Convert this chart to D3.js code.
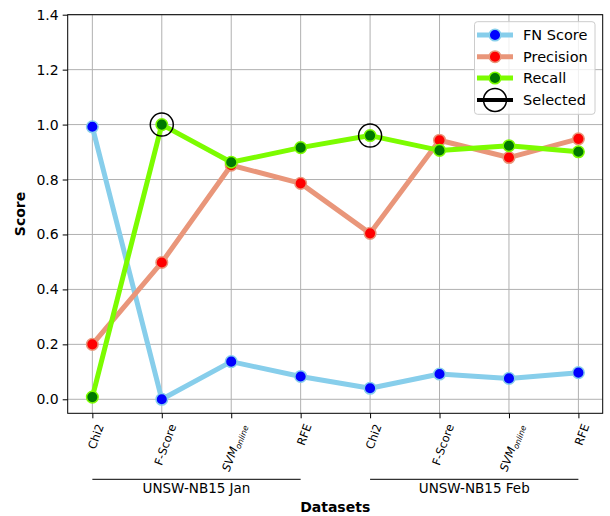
<!DOCTYPE html>
<html>
<head>
<meta charset="utf-8">
<script src="https://cdn.jsdelivr.net/npm/d3@7"></script>
<style>
  body { margin: 0; background: #fff; }
  svg { display: block; font-family: "DejaVu Sans", sans-serif; }
</style>
</head>
<body>
<svg id="chart" width="610" height="516"></svg>
<script>
// ---- data ----
const categories = ["Chi2", "F-Score", "SVM_online", "RFE", "Chi2", "F-Score", "SVM_online", "RFE"];
const groups = ["UNSW-NB15 Jan", "UNSW-NB15 Feb"];
const groupRanges = [[0, 3], [4, 7]];
const fnScore   = [0.992, 0.000, 0.137, 0.083, 0.040, 0.092, 0.076, 0.097];
const precision = [0.200, 0.498, 0.852, 0.786, 0.604, 0.943, 0.880, 0.948];
const recall    = [0.008, 1.000, 0.863, 0.916, 0.960, 0.906, 0.923, 0.901];
const selectedIdx = [1, 4];   // points on Recall that are selected
const yTicks = [0.0, 0.2, 0.4, 0.6, 0.8, 1.0, 1.2, 1.4];

const series = [
  { name: "FN Score",  values: fnScore,   line: "#87ceeb", marker: "#0000ff" },
  { name: "Precision", values: precision, line: "#e9967a", marker: "#ff0000" },
  { name: "Recall",    values: recall,    line: "#7cfc00", marker: "#007800" }
];

// ---- layout ----
const svg = d3.select("#chart");
const L = 67.7, R = 602.7, T = 14.7, B = 413.3;

const x = d3.scaleLinear().domain([-0.355, 7.35]).range([L, R]);
const y = d3.scaleLinear().domain([-0.051, 1.4]).range([B, T]);

// grid
const grid = svg.append("g");
grid.selectAll("line.gx").data(categories.map((d, i) => i)).join("line")
  .attr("x1", d => x(d)).attr("x2", d => x(d)).attr("y1", T).attr("y2", B)
  .attr("stroke", "#b0b0b0").attr("stroke-width", 1);
grid.selectAll("line.gy").data(yTicks).join("line")
  .attr("x1", L).attr("x2", R).attr("y1", d => y(d)).attr("y2", d => y(d))
  .attr("stroke", "#b0b0b0").attr("stroke-width", 1);

// y axis
const yAxis = d3.axisLeft(y).tickValues(yTicks).tickFormat(d3.format(".1f")).tickSize(5).tickPadding(4);
const gy = svg.append("g").attr("transform", `translate(${L},0)`).call(yAxis);
gy.select(".domain").remove();
gy.selectAll("text").attr("font-size", 14).attr("fill", "#000").attr("font-family", "DejaVu Sans");
gy.selectAll("line").attr("stroke", "#000");

// x axis ticks
const xAxis = d3.axisBottom(x).tickValues(categories.map((d, i) => i)).tickFormat("").tickSize(5);
const gx = svg.append("g").attr("transform", `translate(0,${B})`).call(xAxis);
gx.select(".domain").remove();
gx.selectAll("line").attr("stroke", "#000");

// frame
svg.append("rect").attr("x", L).attr("y", T).attr("width", R - L).attr("height", B - T)
  .attr("fill", "none").attr("stroke", "#000").attr("stroke-width", 1);

// x tick labels rotated 70deg, bounding box centred on tick, top just under the axis
categories.forEach((c, i) => {
  const g = svg.append("g");
  const t = g.append("text").attr("font-size", 11.5).attr("fill", "#000")
    .attr("text-anchor", "end").attr("transform", "rotate(-70)");
  if (c === "SVM_online") {
    t.append("tspan").attr("font-style", "italic").text("SVM");
    t.append("tspan").attr("font-style", "italic").attr("font-size", 8).attr("dy", 2.5).text("online");
  } else {
    t.text(c);
  }
  const bb = g.node().getBBox();
  const tx = x(i) + 3.5 - (bb.x + bb.width / 2);
  const ty = 422 - bb.y;
  g.attr("transform", `translate(${tx},${ty})`);
});

// group labels
groups.forEach((g, k) => {
  const [a, b] = groupRanges[k];
  svg.append("line").attr("x1", x(a)).attr("x2", x(b)).attr("y1", 479.3).attr("y2", 479.3)
    .attr("stroke", "#000").attr("stroke-width", 1);
  svg.append("text").attr("x", (x(a) + x(b)) / 2).attr("y", 493).attr("text-anchor", "middle")
    .attr("font-size", 13.5).attr("fill", "#000").text(g);
});

// axis titles
svg.append("text").attr("x", (L + R) / 2).attr("y", 512).attr("text-anchor", "middle")
  .attr("font-size", 14).attr("font-weight", "bold").text("Datasets");
svg.append("text").attr("transform", `translate(24.5,${(T + B) / 2}) rotate(-90)`)
  .attr("text-anchor", "middle").attr("font-size", 14).attr("font-weight", "bold").text("Score");

// series
const line = d3.line().x((d, i) => x(i)).y(d => y(d));
series.forEach(s => {
  const g = svg.append("g");
  g.append("path").attr("d", line(s.values)).attr("fill", "none")
    .attr("stroke", s.line).attr("stroke-width", 5).attr("stroke-linejoin", "round");
  g.selectAll("circle").data(s.values).join("circle")
    .attr("cx", (d, i) => x(i)).attr("cy", d => y(d)).attr("r", 5.8)
    .attr("fill", s.marker).attr("stroke", s.line).attr("stroke-width", 1.5);
});

// selected markers
svg.append("g").selectAll("circle").data(selectedIdx).join("circle")
  .attr("cx", d => x(d)).attr("cy", d => y(recall[d])).attr("r", 11.5)
  .attr("fill", "none").attr("stroke", "#000").attr("stroke-width", 1.5);

// legend
const lg = svg.append("g");
lg.append("rect").attr("x", 474.5).attr("y", 21.7).attr("width", 120.5).attr("height", 92.6)
  .attr("rx", 3).attr("fill", "#fff").attr("fill-opacity", 0.8).attr("stroke", "#cccccc").attr("stroke-width", 1);
const rows = [35, 56.7, 78, 100];
series.forEach((s, k) => {
  const yy = rows[k];
  lg.append("line").attr("x1", 477).attr("x2", 513).attr("y1", yy).attr("y2", yy)
    .attr("stroke", s.line).attr("stroke-width", 5);
  lg.append("circle").attr("cx", 495).attr("cy", yy).attr("r", 5.8)
    .attr("fill", s.marker).attr("stroke", s.line).attr("stroke-width", 1.5);
  lg.append("text").attr("x", 523).attr("y", yy).attr("dy", "0.36em").attr("font-size", 14.5).text(s.name);
});
{
  const yy = rows[3];
  lg.append("line").attr("x1", 477).attr("x2", 513).attr("y1", yy).attr("y2", yy)
    .attr("stroke", "#000").attr("stroke-width", 4);
  lg.append("circle").attr("cx", 495).attr("cy", yy).attr("r", 11.5)
    .attr("fill", "none").attr("stroke", "#000").attr("stroke-width", 1.5);
  lg.append("text").attr("x", 523).attr("y", yy).attr("dy", "0.36em").attr("font-size", 14.5).text("Selected");
}
</script>
</body>
</html>
